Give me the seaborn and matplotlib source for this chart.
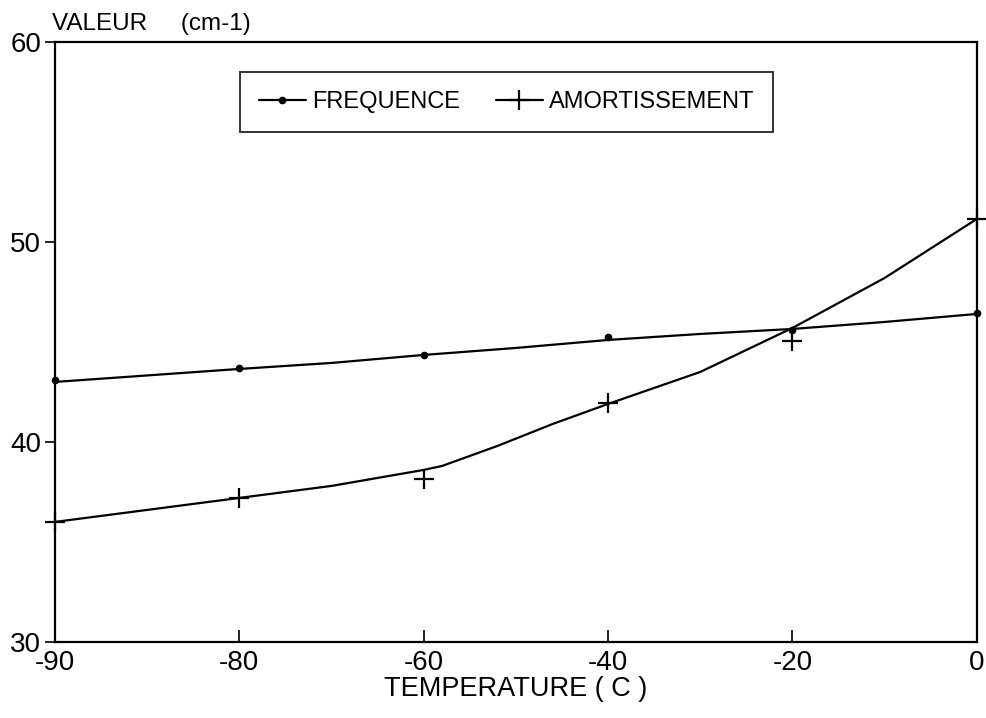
import matplotlib
matplotlib.use("Agg")
import matplotlib.pyplot as plt
import seaborn as sns
import pandas as pd
from matplotlib.lines import Line2D

# x positions of the measured points along the drawn axis
# (the axis is divided in equal steps, the first step being labelled -90)
x_pos = [-100, -80, -60, -40, -20, 0]
x_tick_labels = ["-90", "-80", "-60", "-40", "-20", "0"]
freq_pts = [43.1, 43.7, 44.35, 45.25, 45.6, 46.45]
amort_pts = [36.0, 37.2, 38.15, 41.95, 45.05, 51.15]

# fitted curves
freq_curve_x = [-100, -80, -70, -60, -50, -40, -30, -20, -10, 0]
freq_curve = [43.0, 43.65, 43.95, 44.35, 44.7, 45.1, 45.4, 45.65, 46.0, 46.4]
amort_curve_x = [-100, -90, -80, -70, -60, -58, -52, -46, -40, -30, -20, -10, 0]
amort_curve = [36.0, 36.6, 37.2, 37.8, 38.6, 38.8, 39.8, 40.9, 41.9, 43.5, 45.7, 48.2, 51.15]

y_ticks = [30, 40, 50, 60]

sns.set_theme(style="white")
plt.rcParams['font.family'] = ['Liberation Sans', 'DejaVu Sans']
plt.rcParams.update({"text.color": "black", "axes.labelcolor": "black",
                     "xtick.color": "black", "ytick.color": "black"})

fig = plt.figure(figsize=(9.87, 7.18), dpi=100)
ax = fig.add_axes([0.0557, 0.106, 0.934, 0.8355])

pts = pd.DataFrame({"x": x_pos, "freq": freq_pts, "amort": amort_pts})
fc = pd.DataFrame({"x": freq_curve_x, "y": freq_curve})
ac = pd.DataFrame({"x": amort_curve_x, "y": amort_curve})

sns.lineplot(data=fc, x="x", y="y", ax=ax, color="black", lw=1.6, clip_on=False)
sns.lineplot(data=ac, x="x", y="y", ax=ax, color="black", lw=1.6, clip_on=False)
ax.plot(pts["x"], pts["freq"], ls="none", marker="o", ms=4.5, color="black", clip_on=False)
ax.plot(pts["x"], pts["amort"], ls="none", marker="+", ms=14, mew=1.6, color="black", clip_on=False)

ax.set_xlim(-100, 0)
ax.set_ylim(30, 60)
ax.set_xticks(x_pos)
ax.set_xticklabels(x_tick_labels, fontsize=20)
ax.set_yticks(y_ticks)
ax.set_yticklabels([str(v) for v in y_ticks], fontsize=20)
ax.tick_params(axis="x", direction="in", length=9, width=1.2, pad=6, bottom=True)
ax.tick_params(axis="y", direction="out", length=7, width=1.2, pad=3, left=True)
for s in ax.spines.values():
    s.set_color("black")
    s.set_linewidth(1.6)

ax.set_xlabel("TEMPERATURE ( C )", fontsize=19.5, labelpad=0)
ax.set_ylabel("")
fig.text(0.053, 0.958, "VALEUR     (cm-1)", fontsize=17.5, ha="left", va="baseline")

handles = [
    Line2D([], [], color="black", lw=1.6, marker="o", ms=4.5),
    Line2D([], [], color="black", lw=1.6, marker="+", ms=14, mew=1.6),
]
leg = ax.legend(handles, ["FREQUENCE", "AMORTISSEMENT"], ncol=2,
                loc="upper left", bbox_to_anchor=(0.2007, 0.95),
                fontsize=17, frameon=True, fancybox=False,
                handlelength=2.0, handletextpad=0.26, columnspacing=1.5,
                borderpad=0.8, borderaxespad=0)
leg.get_frame().set_edgecolor("black")
leg.get_frame().set_linewidth(1.4)

fig.savefig("out.png", dpi=100, facecolor="white")
